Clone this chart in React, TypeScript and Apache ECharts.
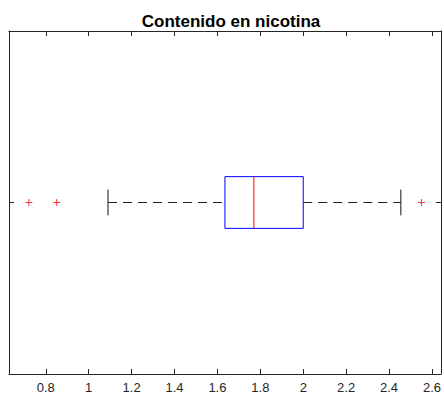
import { useEffect, useRef } from "react";
import * as echarts from "echarts";

// Nicotine content summary (one horizontal box)
const categories = [""];
const lowerWhisker = [1.09];
const firstQuartile = [1.635];
const medianValue = [1.77];
const thirdQuartile = [2.0];
const upperWhisker = [2.455];
const outlierValues = [0.721, 0.851, 2.551];
const tickValues = [0.8, 1, 1.2, 1.4, 1.6, 1.8, 2, 2.2, 2.4, 2.6];
const axisMin = 0.6285;
const axisMax = 2.6417;

const boxData = categories.map((_, i) => [
  i,
  lowerWhisker[i],
  firstQuartile[i],
  medianValue[i],
  thirdQuartile[i],
  upperWhisker[i],
]);
const outlierData = outlierValues.map((v) => [v, 0]);

const frameColor = "#262626";
const font = "'Liberation Sans', Arial, Helvetica, sans-serif";

export default function App() {
  const ref = useRef<HTMLDivElement>(null);

  useEffect(() => {
    if (!ref.current) return;
    const chart = echarts.init(ref.current, null, { renderer: "svg" });

    const valueAxis = (position: "bottom" | "top", showLabels: boolean) => ({
      type: "value",
      position,
      min: axisMin,
      max: axisMax,
      axisLine: { show: true, onZero: false, lineStyle: { color: frameColor, width: 1 } },
      axisTick: {
        show: true,
        inside: true,
        length: 5,
        customValues: tickValues,
        lineStyle: { color: frameColor, width: 1 },
      },
      axisLabel: {
        show: showLabels,
        customValues: tickValues,
        color: frameColor,
        fontSize: 13,
        fontFamily: font,
        margin: 7,
        formatter: (v: number) => String(Math.round(v * 10) / 10),
      },
      splitLine: { show: false },
    });

    const catAxis = (position: "left" | "right") => ({
      type: "category",
      position,
      data: categories,
      axisLine: { show: true, lineStyle: { color: frameColor, width: 1 } },
      axisTick: { show: true, inside: true, length: 5, alignWithLabel: true, lineStyle: { color: frameColor } },
      axisLabel: { show: false },
      splitLine: { show: false },
    });

    chart.setOption({
      animation: false,
      backgroundColor: "#ffffff",
      title: {
        text: "Contenido en nicotina",
        left: 226,
        top: 8,
        textAlign: "center",
        textStyle: { fontSize: 17, fontWeight: "bold", color: "#000", fontFamily: font },
      },
      grid: { left: 9, right: 1, top: 31, bottom: 20, containLabel: false },
      xAxis: [valueAxis("bottom", true), valueAxis("top", false)],
      yAxis: [catAxis("left"), catAxis("right")],
      series: [
        {
          type: "custom",
          xAxisIndex: 0,
          yAxisIndex: 0,
          data: boxData,
          encode: { x: [1, 2, 3, 4, 5], y: 0 },
          renderItem: (_params: any, api: any) => {
            const cat = api.value(0);
            const band = api.size([0, 1])[1];
            const boxHalf = band * 0.0754;
            const capHalf = band * 0.0375;
            const pLw = api.coord([api.value(1), cat]);
            const pQ1 = api.coord([api.value(2), cat]);
            const pMed = api.coord([api.value(3), cat]);
            const pQ3 = api.coord([api.value(4), cat]);
            const pUw = api.coord([api.value(5), cat]);
            const y = pMed[1];
            const whiskerStyle = { stroke: "#222", lineWidth: 1, lineDash: [9, 6] };
            const solid = { stroke: "#111", lineWidth: 1 };
            return {
              type: "group",
              children: [
                { type: "line", shape: { x1: pLw[0], y1: y, x2: pQ1[0], y2: y }, style: whiskerStyle },
                { type: "line", shape: { x1: pQ3[0], y1: y, x2: pUw[0], y2: y }, style: whiskerStyle },
                { type: "line", shape: { x1: pLw[0], y1: y - capHalf, x2: pLw[0], y2: y + capHalf }, style: solid },
                { type: "line", shape: { x1: pUw[0], y1: y - capHalf, x2: pUw[0], y2: y + capHalf }, style: solid },
                {
                  type: "rect",
                  shape: { x: pQ1[0], y: y - boxHalf, width: pQ3[0] - pQ1[0], height: boxHalf * 2 },
                  style: { fill: "none", stroke: "#0000ff", lineWidth: 1 },
                },
                {
                  type: "line",
                  shape: { x1: pMed[0], y1: y - boxHalf, x2: pMed[0], y2: y + boxHalf },
                  style: { stroke: "#ff0000", lineWidth: 1 },
                },
              ],
            };
          },
          z: 2,
        },
        {
          type: "scatter",
          xAxisIndex: 0,
          yAxisIndex: 0,
          data: outlierData,
          symbol: "path://M3,0h1v3h3v1h-3v3h-1v-3h-3v-1h3z",
          symbolSize: 7,
          itemStyle: { color: "#ff0000" },
          z: 3,
        },
      ],
    });

    return () => chart.dispose();
  }, []);

  return (
    <div
      ref={ref}
      style={{ position: "absolute", left: 0, top: 0, width: 444, height: 394 }}
    />
  );
}
